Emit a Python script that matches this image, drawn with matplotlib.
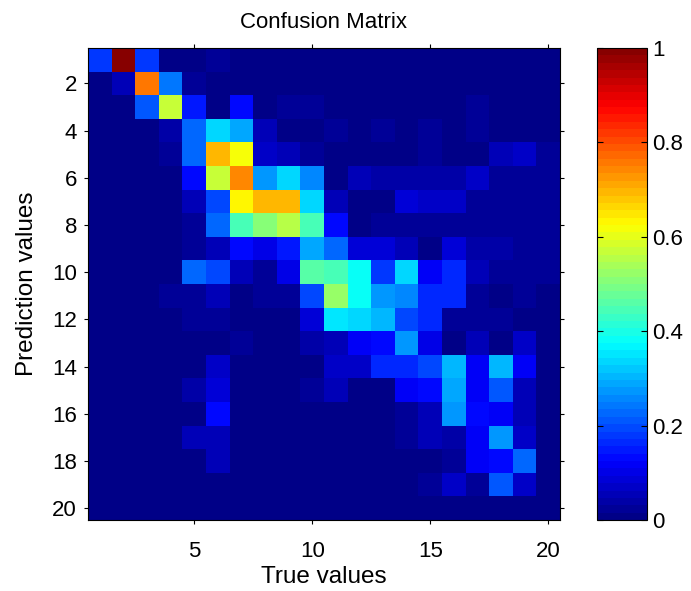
import numpy as np
import matplotlib
matplotlib.use("Agg")
import matplotlib.pyplot as plt
from matplotlib.colors import ListedColormap

plt.rcParams['font.family'] = ['Liberation Sans', 'DejaVu Sans']

true_labels = list(range(1, 21))
pred_labels = list(range(1, 21))

row01 = [0.18, 1.00, 0.18, 0.00, 0.01, 0.03, 0, 0, 0, 0, 0, 0, 0, 0, 0, 0, 0, 0, 0, 0]
row02 = [0, 0.06, 0.75, 0.24, 0.02, 0, 0, 0, 0, 0, 0, 0, 0, 0, 0, 0, 0, 0, 0, 0]
row03 = [0, 0, 0.21, 0.57, 0.15, 0.01, 0.13, 0, 0.02, 0.02, 0, 0, 0, 0, 0, 0, 0.02, 0, 0, 0]
row04 = [0, 0, 0.01, 0.04, 0.22, 0.33, 0.29, 0.06, 0.01, 0.01, 0.02, 0, 0.02, 0, 0.02, 0, 0.02, 0, 0, 0]
row05 = [0, 0, 0, 0.02, 0.22, 0.69, 0.61, 0.07, 0.05, 0.03, 0.01, 0.01, 0.01, 0.01, 0.02, 0.01, 0.01, 0.06, 0.07, 0.03]
row06 = [0, 0, 0, 0, 0.14, 0.57, 0.74, 0.27, 0.34, 0.26, 0.0, 0.06, 0.04, 0.04, 0.04, 0.04, 0.07, 0.02, 0.02, 0.02]
row07 = [0, 0, 0, 0, 0.06, 0.20, 0.63, 0.70, 0.69, 0.34, 0.05, 0.01, 0.01, 0.08, 0.07, 0.07, 0.03, 0.02, 0.02, 0.02]
row08 = [0, 0, 0, 0, 0.02, 0.22, 0.45, 0.51, 0.56, 0.45, 0.13, 0.01, 0.03, 0.03, 0.03, 0.03, 0.03, 0.03, 0.03, 0.02]
row09 = [0, 0, 0, 0, 0.02, 0.06, 0.14, 0.10, 0.15, 0.29, 0.22, 0.08, 0.08, 0.06, 0.01, 0.08, 0.04, 0.04, 0.03, 0.02]
row10 = [0, 0, 0, 0, 0.22, 0.20, 0.05, 0.03, 0.10, 0.46, 0.45, 0.38, 0.18, 0.34, 0.12, 0.17, 0.06, 0.02, 0.03, 0.02]
row11 = [0, 0, 0, 0.02, 0.03, 0.06, 0.01, 0.03, 0.03, 0.20, 0.53, 0.38, 0.28, 0.25, 0.16, 0.16, 0.03, 0.01, 0.02, 0.01]
row12 = [0, 0, 0, 0, 0.03, 0.03, 0.01, 0.01, 0.01, 0.08, 0.35, 0.33, 0.30, 0.20, 0.16, 0.02, 0.02, 0.02, 0.01, 0.01]
row13 = [0, 0, 0, 0, 0, 0, 0.03, 0.01, 0.01, 0.04, 0.06, 0.12, 0.13, 0.28, 0.10, 0.01, 0.05, 0.01, 0.07, 0]
row14 = [0, 0, 0, 0, 0, 0.07, 0.01, 0.01, 0.01, 0.01, 0.07, 0.07, 0.17, 0.17, 0.20, 0.30, 0.12, 0.31, 0.11, 0]
row15 = [0, 0, 0, 0, 0.04, 0.08, 0, 0, 0, 0.03, 0.06, 0.01, 0.01, 0.11, 0.14, 0.29, 0.12, 0.21, 0.06, 0]
row16 = [0, 0, 0, 0, 0, 0.13, 0, 0, 0, 0, 0, 0, 0, 0.02, 0.05, 0.28, 0.14, 0.12, 0.06, 0]
row17 = [0, 0, 0, 0, 0.06, 0.06, 0, 0, 0, 0, 0, 0, 0, 0.02, 0.06, 0.04, 0.12, 0.28, 0.07, 0]
row18 = [0, 0, 0, 0, 0, 0.06, 0, 0, 0, 0, 0, 0, 0, 0, 0.01, 0.02, 0.12, 0.14, 0.22, 0]
row19 = [0, 0, 0, 0, 0, 0, 0, 0, 0, 0, 0, 0, 0, 0, 0.02, 0.07, 0.03, 0.21, 0.07, 0]
row20 = [0] * 20

matrix = np.array([row01, row02, row03, row04, row05, row06, row07, row08, row09, row10,
                   row11, row12, row13, row14, row15, row16, row17, row18, row19, row20])

x_ticks = [5, 10, 15, 20]
y_ticks = [2, 4, 6, 8, 10, 12, 14, 16, 18, 20]
cbar_ticks = [0, 0.2, 0.4, 0.6, 0.8, 1]
cbar_ticklabels = ["0", "0.2", "0.4", "0.6", "0.8", "1"]

# MATLAB-style jet colormap with 64 levels
_t = (np.arange(64) + 0.5) / 64
_r = np.clip(1.5 - np.abs(4 * _t - 3), 0, 1)
_g = np.clip(1.5 - np.abs(4 * _t - 2), 0, 1)
_b = np.clip(1.5 - np.abs(4 * _t - 1), 0, 1)
cmap = ListedColormap(np.stack([_r, _g, _b], axis=1))

W, H = 691, 591
fig = plt.figure(figsize=(W / 100, H / 100), dpi=100)
ax = fig.add_axes([88 / W, 1 - 520 / H, (560 - 88) / W, (520 - 48) / H])
cax = fig.add_axes([597 / W, 1 - 520 / H, (647 - 597) / W, (520 - 48) / H])

im = ax.imshow(matrix, cmap=cmap, vmin=0, vmax=1, aspect='auto',
               extent=[0.5, 20.5, 20.5, 0.5], interpolation='nearest')

ax.set_xticks(x_ticks)
ax.set_yticks(y_ticks)
ax.tick_params(direction='out', top=True, right=True, length=3, width=0.8,
               labelsize=16)
ax.tick_params(axis='x', pad=12)
ax.tick_params(axis='y', pad=5)
ax.set_xlabel('True values', fontsize=17.5, va='top')
ax.xaxis.set_label_coords(0.5, -(566 - 520) / 472)
ax.set_ylabel('Prediction values', fontsize=17.5)
ax.yaxis.set_label_coords(-(88 - 38) / 472, 0.5)
ax.set_title('Confusion Matrix', fontsize=16, pad=14.4)
for s in ax.spines.values():
    s.set_linewidth(0.8)

cb = fig.colorbar(im, cax=cax)
cb.set_ticks(cbar_ticks)
cb.set_ticklabels(cbar_ticklabels)
cax.tick_params(direction='in', left=True, right=True, length=4, width=0.8,
                labelsize=16, pad=3.5)
cb.outline.set_linewidth(0.8)

fig.savefig('out.png', dpi=100)
